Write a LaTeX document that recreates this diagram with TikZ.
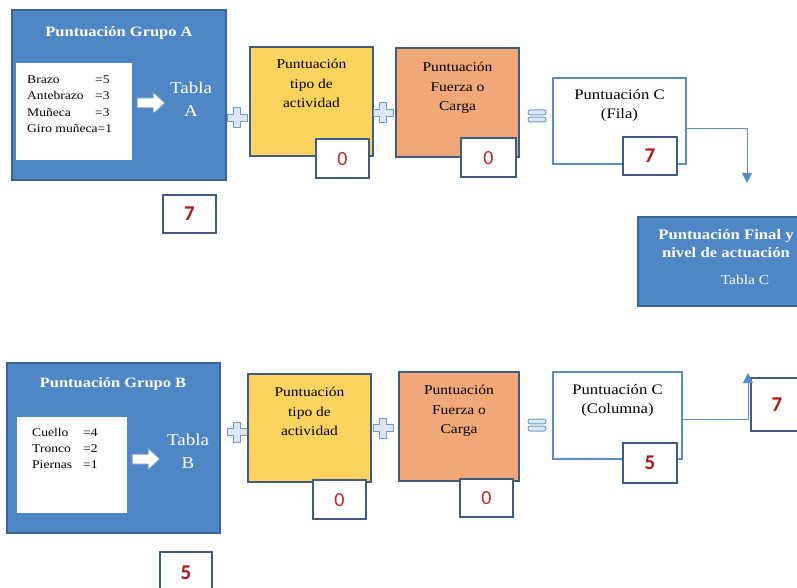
\documentclass[tikz,border=0pt]{standalone}
\usepackage{fontspec}
\setmainfont{Liberation Serif}[FakeStretch=1.15]
\newfontfamily\numfont{Carlito}
\usetikzlibrary{arrows.meta}

\definecolor{grpblue}{HTML}{4F86C6}
\definecolor{grpedge}{HTML}{3A6496}
\definecolor{actyellow}{HTML}{FBD35E}
\definecolor{loadorange}{HTML}{F0A878}
\definecolor{boxedge}{HTML}{3F5D82}
\definecolor{lineblue}{HTML}{5A8CC8}
\definecolor{numred}{HTML}{B0151E}
\definecolor{zerored}{HTML}{C8202A}
\definecolor{opedge}{HTML}{7099C9}
\definecolor{opfillc}{HTML}{DCE6F4}

\tikzset{
  rect/.style={draw, line width=1.1pt, anchor=north west, inner sep=0pt, outer sep=0pt},
  grp/.style={rect, fill=grpblue, draw=grpedge},
  listbox/.style={rect, fill=white, draw=white},
  actbox/.style={rect, fill=actyellow, draw=boxedge},
  loadbox/.style={rect, fill=loadorange, draw=boxedge},
  cbox/.style={rect, fill=white, draw=lineblue},
  numbox/.style={rect, fill=white, draw=boxedge},
  sevenfont/.style={font=\numfont\bfseries\fontsize{21}{21}\selectfont, text=numred},
  zerofont/.style={font=\numfont\fontsize{20}{20}\selectfont, text=zerored},
  grptitle/.style={text=white, font=\bfseries\fontsize{14.3}{16}\selectfont},
  tabla/.style={text=white, align=center, font=\fontsize{16.5}{23}\selectfont},
  listtext/.style={anchor=north west, align=left, inner sep=0pt, font=\fontsize{11.8}{16.3}\selectfont},
  boxtext/.style={anchor=north, align=center, inner sep=0pt, font=\fontsize{13.5}{19.5}\selectfont},
  conn/.style={draw=lineblue, line width=0.9pt, -{Triangle[length=10pt,width=10pt]}},
  opshape/.style={draw=opedge, fill=opfillc, line width=1pt, line join=round},
  plussign/.pic={\path[opshape] (-3.4,-10) -- (3.4,-10) -- (3.4,-3.4) -- (10,-3.4) -- (10,3.4)
      -- (3.4,3.4) -- (3.4,10) -- (-3.4,10) -- (-3.4,3.4) -- (-10,3.4) -- (-10,-3.4)
      -- (-3.4,-3.4) -- cycle;},
  eqsign/.pic={\path[opshape, rounded corners=2pt] (-9,-6) rectangle (9,-1.2);
      \path[opshape, rounded corners=2pt] (-9,1.2) rectangle (9,6);},
  blockarrow/.pic={\path[draw=opedge, fill=white, line width=1pt, line join=round]
      (-14,-5) -- (2,-5) -- (2,-11) -- (14,0) -- (2,11) -- (2,5) -- (-14,5) -- cycle;}
}

\begin{document}
\begin{tikzpicture}[x=1pt, y=-1pt]
\useasboundingbox (0,0) rectangle (797,588);

% ---------- Group A row ----------
\node[grp, minimum width=214, minimum height=170] (grpA) at (12,10) {};
\node[grptitle] (titleA) at (119,33) {Puntuación Grupo A};
\node[listbox, minimum width=114, minimum height=95] (listA) at (17,64) {};
\node[listtext] (itemsA) at (27,75.5) {\makebox[68pt][l]{Brazo}=5\\
  \makebox[68pt][l]{Antebrazo}=3\\
  \makebox[68pt][l]{Muñeca}=3\\
  Giro muñeca=1};
\pic at (151,103) {blockarrow};
\node[tabla] (tablaA) at (191,99.5) {Tabla\\A};
\node[numbox, minimum width=53, minimum height=38] (scoreA) at (163,195) {};
\node[sevenfont] (scoreAtxt) at (189.5,214) {7};

\pic at (237,118) {plussign};

\node[actbox, minimum width=123, minimum height=109] (actA) at (250,47) {};
\node[boxtext] (actAtxt) at (311.5,59) {Puntuación\\tipo de\\actividad};
\node[numbox, minimum width=53, minimum height=39] (actAnum) at (316,139) {};
\node[zerofont] (actAval) at (342.5,159) {0};

\pic at (383,113) {plussign};

\node[loadbox, minimum width=123, minimum height=109] (loadA) at (396,48) {};
\node[boxtext] (loadAtxt) at (457.5,62) {Puntuación\\Fuerza o\\Carga};
\node[numbox, minimum width=55, minimum height=39] (loadAnum) at (461,138) {};
\node[zerofont] (loadAval) at (488.5,158) {0};

\pic at (537,116) {eqsign};

\node[cbox, minimum width=133, minimum height=86] (cA) at (553,78) {};
\node[boxtext, font=\fontsize{14.5}{19.5}\selectfont] (cAtxt) at (619.5,89) {Puntuación C\\(Fila)};
\node[numbox, minimum width=54, minimum height=38] (cAnum) at (623,137) {};
\node[sevenfont] (cAval) at (650,156) {7};

% ---------- final score ----------
\node[grp, minimum width=165, minimum height=89] (final) at (638,217) {};
\node[align=center, text=white, font=\bfseries\fontsize{14.5}{18}\selectfont] (finaltxt) at (726,244) {Puntuación Final y\\nivel de actuación};
\node[text=white, font=\fontsize{13.5}{15}\selectfont] (tablaC) at (745,280) {Tabla C};

\coordinate (tipA) at (747,183);
\draw[conn] ([yshift=-7pt]cA.east) -| (tipA);

% ---------- Group B row ----------
\node[grp, minimum width=213, minimum height=170] (grpB) at (7,363) {};
\node[grptitle] (titleB) at (113,384) {Puntuación Grupo B};
\node[listbox, minimum width=108, minimum height=94] (listB) at (18,418) {};
\node[listtext] (itemsB) at (32,428) {\makebox[51pt][l]{Cuello}=4\\
  \makebox[51pt][l]{Tronco}=2\\
  \makebox[51pt][l]{Piernas}=1};
\pic at (146,459) {blockarrow};
\node[tabla] (tablaB) at (188,451) {Tabla\\B};
\node[numbox, minimum width=52, minimum height=45] (scoreB) at (160,552) {};
\node[sevenfont] (scoreBtxt) at (186,573) {5};

\pic at (237,432) {plussign};

\node[actbox, minimum width=123, minimum height=108] (actB) at (248,374) {};
\node[boxtext] (actBtxt) at (309.5,387) {Puntuación\\tipo de\\actividad};
\node[numbox, minimum width=53, minimum height=39] (actBnum) at (313,480) {};
\node[zerofont] (actBval) at (339.5,500) {0};

\pic at (383,428) {plussign};

\node[loadbox, minimum width=120, minimum height=109] (loadB) at (399,372) {};
\node[boxtext] (loadBtxt) at (459,385) {Puntuación\\Fuerza o\\Carga};
\node[numbox, minimum width=53, minimum height=38] (loadBnum) at (460,479) {};
\node[zerofont] (loadBval) at (486.5,498.5) {0};

\pic at (537,425) {eqsign};

\node[cbox, minimum width=129, minimum height=87] (cB) at (553,372) {};
\node[boxtext, font=\fontsize{14.5}{19.5}\selectfont] (cBtxt) at (617.5,384) {Puntuación C\\(Columna)};
\node[numbox, minimum width=54, minimum height=40] (cBnum) at (623,443) {};
\node[sevenfont] (cBval) at (650,463) {5};

\node[numbox, minimum width=60, minimum height=53] (colscore) at (751,378) {};
\node[sevenfont] (colscoretxt) at (777,405) {7};

\coordinate (tipB) at (748,373);
\draw[conn] ([yshift=-3.5pt]cB.east) -| (tipB);
\end{tikzpicture}
\end{document}
